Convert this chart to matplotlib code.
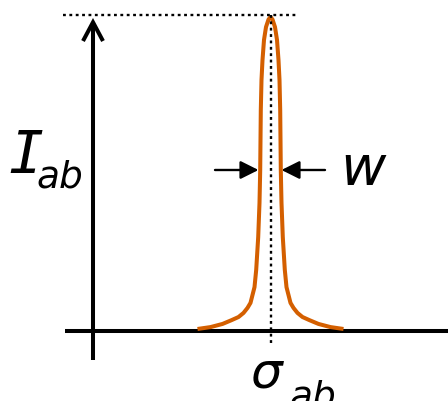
import matplotlib.pyplot as plt
from matplotlib.patches import FancyArrowPatch

# peak profile: offset from the centre and relative intensity
offsets = [-73, -60, -48, -39, -32, -27, -23, -20, -16, -14.3, -12.3, -11, -10.3,
           -10, -9.7, -9, -8, -6.5, -4.5, -2, 0,
           2, 4.5, 6.5, 8, 9, 9.7, 10, 10.3, 11, 12.3, 14.3, 16, 20, 23,
           27, 32, 39, 48, 60, 73]
intensity = [0.008, 0.014, 0.024, 0.036, 0.046, 0.059, 0.075, 0.091, 0.141, 0.196,
             0.300, 0.409, 0.513, 0.609, 0.704, 0.800, 0.863, 0.927, 0.968, 0.992, 1.0,
             0.992, 0.968, 0.927, 0.863, 0.800, 0.704, 0.609, 0.513, 0.409, 0.300,
             0.196, 0.141, 0.091, 0.075, 0.059, 0.046, 0.036, 0.024, 0.014, 0.008]
half_max = 0.5135

W, H = 448, 401
fig = plt.figure(figsize=(W / 100, H / 100), dpi=100)
ax = fig.add_axes([0, 0, 1, 1])
ax.set_xlim(-270.5, 177.5)
ax.set_ylim(-0.221, 1.054)
ax.axis("off")


def py(y):
    # pixel row -> intensity units
    return (331.5 - y) / 314.5


def px(x):
    return x - 270.5


orange = "#d45f00"
ax.plot(offsets, intensity, color=orange, lw=2.9, solid_joinstyle="round",
        solid_capstyle="butt", zorder=3)

# axes
ax.plot([px(65), px(448)], [0, 0], color="black", lw=2.9, solid_capstyle="butt")
ax.add_patch(FancyArrowPatch((px(93), py(360)), (px(93), py(18)),
                             arrowstyle="->,head_length=13.5,head_width=7.2",
                             mutation_scale=1, lw=2.9, color="black",
                             shrinkA=0, shrinkB=0, joinstyle="miter",
                             capstyle="butt"))

# dotted guides
dots = dict(color="black", lw=1.7, ls=(0, (1.2, 1.5)), dash_capstyle="butt", zorder=4)
ax.plot([px(63), px(297)], [py(15.5), py(15.5)], **dots)
ax.plot([px(271), px(271)], [py(15), py(345)], **dots)

# width arrows
for x0, x1 in [(215, 258.5), (325, 281.5)]:
    ax.add_patch(FancyArrowPatch((px(x0), half_max), (px(x1), half_max),
                                 arrowstyle="-|>,head_length=11,head_width=5.5",
                                 mutation_scale=1, lw=1.7, color="black",
                                 shrinkA=0, shrinkB=0))


def ftext(x, y, s, size, family="DejaVu Sans"):
    fig.text(x / W, 1 - y / H, s, fontsize=size, style="italic",
             family=family, ha="left", va="baseline")


ftext(8, 173, "I", 42, family="DejaVu Sans Mono")
ftext(36, 188, "ab", 27)
ftext(340, 185, "w", 40)
ftext(250, 388, "σ", 36)
ftext(289, 407, "ab", 27)

fig.savefig("out.png", dpi=100)
